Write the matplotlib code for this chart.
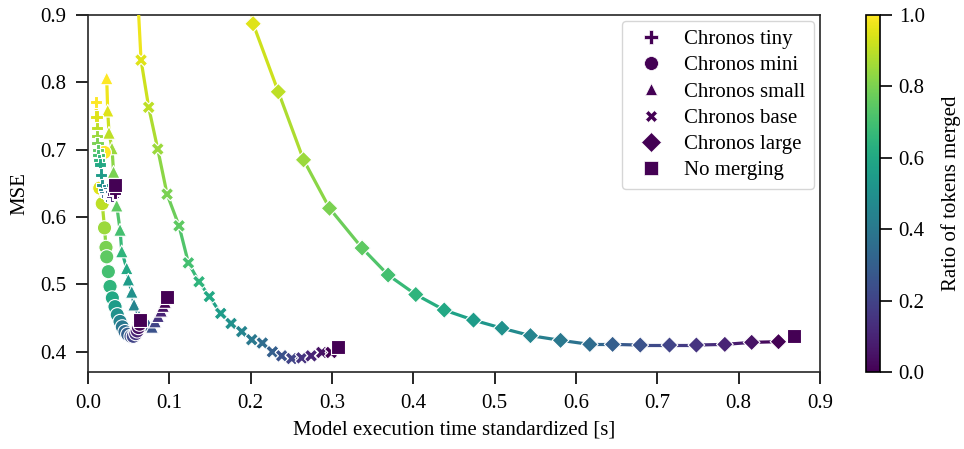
import matplotlib
matplotlib.use('Agg')
import matplotlib.pyplot as plt
import numpy as np
from matplotlib.collections import LineCollection
from matplotlib.lines import Line2D

plt.rcParams['font.family'] = ['Liberation Serif', 'DejaVu Serif']
plt.rcParams['font.size'] = 15

# ---------------- data ----------------
ratios = [1.0, 0.95, 0.9, 0.85, 0.8, 0.75, 0.7, 0.65, 0.6, 0.55, 0.5,
          0.45, 0.4, 0.35, 0.3, 0.25, 0.2, 0.15, 0.1, 0.05, 0.0]

tiny_x = [0.0098, 0.0105, 0.0107, 0.0110, 0.0115, 0.0120, 0.0127, 0.0138, 0.0148, 0.0160, 0.0176,
          0.0195, 0.0209, 0.0225, 0.0240, 0.0255, 0.0270, 0.0285, 0.0300, 0.0315, 0.0330]
tiny_y = [0.771, 0.749, 0.732, 0.720, 0.710, 0.700, 0.692, 0.684, 0.678, 0.663, 0.648,
          0.640, 0.636, 0.633, 0.631, 0.630, 0.630, 0.631, 0.632, 0.634, 0.636]

mini_x = [0.0200, 0.0145, 0.0175, 0.0203, 0.0221, 0.0230, 0.0250, 0.0271, 0.0299, 0.0332, 0.0360,
          0.0394, 0.0422, 0.0455, 0.0488, 0.0529, 0.0557, 0.0587, 0.0605, 0.0620, 0.0635]
mini_y = [0.696, 0.643, 0.620, 0.584, 0.555, 0.541, 0.519, 0.497, 0.480, 0.467, 0.455,
          0.445, 0.437, 0.430, 0.426, 0.423, 0.423, 0.427, 0.431, 0.436, 0.441]

small_x = [0.0230, 0.0242, 0.0258, 0.0295, 0.0314, 0.0353, 0.0394, 0.0415, 0.0476, 0.0496, 0.0538,
           0.0566, 0.0627, 0.0701, 0.0744, 0.0787, 0.0824, 0.0861, 0.0898, 0.0923, 0.0947]
small_y = [0.806, 0.758, 0.725, 0.702, 0.667, 0.617, 0.581, 0.549, 0.524, 0.507, 0.489,
           0.470, 0.453, 0.445, 0.440, 0.437, 0.445, 0.453, 0.461, 0.468, 0.474]

base_x = [0.058, 0.0652, 0.0746, 0.0857, 0.0972, 0.1119, 0.1234, 0.1365, 0.1492, 0.1632, 0.1759,
          0.1890, 0.2013, 0.2144, 0.2267, 0.2382, 0.2505, 0.2628, 0.2743, 0.2874, 0.2989]
base_y = [1.000, 0.833, 0.763, 0.701, 0.634, 0.587, 0.532, 0.504, 0.482, 0.457, 0.442,
          0.430, 0.418, 0.413, 0.400, 0.394, 0.390, 0.391, 0.394, 0.399, 0.399]

large_x = [0.192, 0.203, 0.234, 0.265, 0.297, 0.337, 0.369, 0.403, 0.438, 0.474, 0.509,
           0.544, 0.581, 0.617, 0.645, 0.679, 0.715, 0.748, 0.783, 0.816, 0.849]
large_y = [1.000, 0.887, 0.786, 0.685, 0.613, 0.554, 0.514, 0.485, 0.462, 0.447, 0.435,
           0.424, 0.417, 0.411, 0.411, 0.410, 0.410, 0.410, 0.411, 0.414, 0.415]

nomerge_x = [0.0332, 0.0640, 0.0968, 0.3069, 0.8684]
nomerge_y = [0.648, 0.4475, 0.4816, 0.4064, 0.4237]

labels = ['Chronos tiny', 'Chronos mini', 'Chronos small', 'Chronos base', 'Chronos large', 'No merging']

# ---------------- plot ----------------
fig = plt.figure(figsize=(9.64, 4.49), dpi=100)
ax = fig.add_axes([0.0913, 0.1715, 0.7593, 0.7951])
cmap = plt.get_cmap('viridis')
norm = plt.Normalize(0, 1)


def draw(x, y, marker, s, z):
    pts = np.column_stack([x, y])
    segs = np.stack([pts[:-1], pts[1:]], axis=1)
    r = np.array(ratios)
    rr = (r[:-1] + r[1:]) / 2
    lc = LineCollection(segs, colors=cmap(norm(rr)), linewidths=2.3, zorder=z)
    ax.add_collection(lc)
    ax.scatter(x, y, c=ratios, cmap=cmap, norm=norm, marker=marker, s=s,
               edgecolors='white', linewidths=0.8, zorder=z + 0.5)


draw(large_x, large_y, 'D', 72, 2)
draw(base_x, base_y, 'X', 90, 3)
draw(small_x, small_y, '^', 85, 4)
draw(mini_x, mini_y, 'o', 105, 5)
draw(tiny_x, tiny_y, 'P', 80, 6)
ax.scatter(nomerge_x, nomerge_y, color=cmap(0.0), marker='s', s=95,
           edgecolors='white', linewidths=0.8, zorder=10)

ax.set_xlim(0, 0.9)
ax.set_ylim(0.37, 0.9)
ax.set_xticks(np.arange(0, 0.91, 0.1))
ax.set_yticks(np.arange(0.4, 0.91, 0.1))
ax.set_xticklabels([f'{v:.1f}' for v in np.arange(0, 0.91, 0.1)])
ax.set_yticklabels([f'{v:.1f}' for v in np.arange(0.4, 0.91, 0.1)])
ax.set_xlabel('Model execution time standardized [s]', labelpad=6)
ax.set_ylabel('MSE', labelpad=8)
ax.tick_params(direction='out', length=8.5, width=1.2, pad=7)
for sp in ax.spines.values():
    sp.set_linewidth(1.2)
    sp.set_color('#262626')

markers = ['P', 'o', '^', 'X', 'D', 's']
msizes = [10, 10, 9, 9, 10, 9.5]
handles = [Line2D([], [], linestyle='none', marker=m, markersize=ms, color=cmap(0.0),
                  markeredgecolor='white', markeredgewidth=0.5)
           for m, ms in zip(markers, msizes)]
leg = ax.legend(handles, labels, loc='upper right', borderaxespad=0.3, labelspacing=0.32,
                handletextpad=0.6, fontsize=15, frameon=True, fancybox=True)
leg.get_frame().set_edgecolor('#cccccc')

cax = fig.add_axes([0.8983, 0.1715, 0.0145, 0.7951])
sm = plt.cm.ScalarMappable(cmap=cmap, norm=norm)
cb = fig.colorbar(sm, cax=cax)
cb.set_ticks([0.0, 0.2, 0.4, 0.6, 0.8, 1.0])
cb.set_ticklabels(['0.0', '0.2', '0.4', '0.6', '0.8', '1.0'])
cb.set_label('Ratio of tokens merged', labelpad=12)
cb.outline.set_linewidth(1.2)
cax.tick_params(direction='out', length=8.5, width=1.2, pad=5)

fig.savefig('out.png', dpi=100)
